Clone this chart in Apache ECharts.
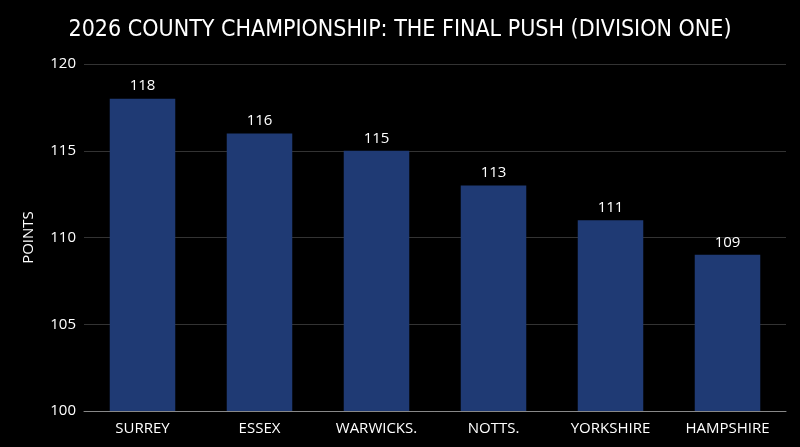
<!DOCTYPE html>
<html><head><meta charset="utf-8">
<script src="https://cdn.jsdelivr.net/npm/echarts@6/dist/echarts.min.js"></script>
<style>html,body{margin:0;background:#000;}#c{width:800px;height:447px;}</style>
</head><body><div id="c"></div>
<script>
const categories = ["SURREY","ESSEX","WARWICKS.","NOTTS.","YORKSHIRE","HAMPSHIRE"];
const points = [118,116,115,113,111,109];
const chart = echarts.init(document.getElementById('c'));
chart.setOption({
  backgroundColor:'#000',
  title:{text:'2026 COUNTY CHAMPIONSHIP: THE FINAL PUSH (DIVISION ONE)',left:'center',top:14,
    textStyle:{color:'#fff',fontSize:23,fontWeight:'normal',fontFamily:'DejaVu Sans Condensed'}},
  grid:{left:84,right:14,top:64,bottom:36},
  xAxis:{type:'category',data:categories,
    axisLine:{lineStyle:{color:'#888'}},axisTick:{show:false},
    axisLabel:{color:'#fff',fontSize:15,fontFamily:'Open Sans',margin:10}},
  yAxis:{type:'value',min:100,max:120,interval:5,name:'POINTS',nameLocation:'middle',nameGap:48,
    nameTextStyle:{color:'#fff',fontSize:15,fontFamily:'Open Sans'},
    axisLabel:{color:'#fff',fontSize:15,fontFamily:'Open Sans'},
    axisLine:{show:false},
    splitLine:{lineStyle:{color:'#333'}}},
  series:[{type:'bar',data:points,barWidth:'56%',
    itemStyle:{color:'#1f3a74'},
    label:{show:true,position:'top',color:'#fff',fontSize:15,fontFamily:'Open Sans'}}]
});
</script></body></html>
